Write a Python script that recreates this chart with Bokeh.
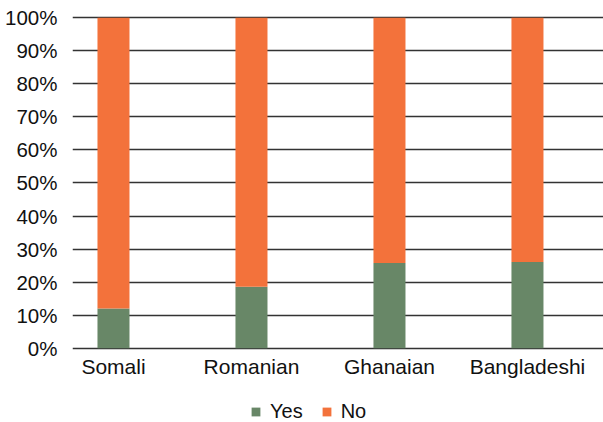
import numpy as np
from bokeh.plotting import figure
from bokeh.models import (ColumnDataSource, Range1d, FixedTicker, NumeralTickFormatter,
                          Legend, LegendItem)
from bokeh.core.properties import value
from bokeh.embed import file_html
from bokeh.resources import INLINE

categories = ["Somali", "Romanian", "Ghanaian", "Bangladeshi"]
yes_share = [0.120, 0.186, 0.258, 0.261]
no_share = [1 - v for v in yes_share]
y_ticks = [i / 10 for i in range(11)]

GREEN = "#688767"
ORANGE = "#F3723B"
FONT = "Liberation Sans"
TEXT = "#111111"

xs = list(range(len(categories)))
src = ColumnDataSource(dict(x=xs, Yes=yes_share, No=no_share, cat=categories))

p = figure(width=603, height=422, output_backend="svg", toolbar_location=None,
           x_range=Range1d(-0.297, 3.551), y_range=Range1d(-0.2249, 1.016),
           min_border_left=72, min_border_right=0, min_border_top=12, min_border_bottom=0)
p.outline_line_color = None
p.background_fill_color = "white"
p.border_fill_color = "white"

r = p.vbar_stack(["Yes", "No"], x="x", width=0.232, source=src,
                 color=[GREEN, ORANGE], line_color=None)

# category labels under the baseline
p.text(x="x", y=0, text="cat", source=src, y_offset=18, text_align="center",
       text_baseline="alphabetic", text_font=value(FONT), text_font_size="21px",
       text_color=TEXT)

p.xaxis.visible = False
p.yaxis.ticker = FixedTicker(ticks=y_ticks)
p.yaxis.formatter = NumeralTickFormatter(format="0%")
ax = p.yaxis[0]
ax.axis_line_color = None
ax.major_tick_line_color = None
ax.minor_tick_line_color = None
ax.major_label_text_font = FONT
ax.major_label_text_font_size = "20.5px"
ax.major_label_text_color = TEXT
ax.major_label_standoff = 9

p.xgrid.grid_line_color = None
p.ygrid.grid_line_color = "#333333"
p.ygrid.grid_line_width = 1.6

legend = Legend(items=[LegendItem(label="Yes", renderers=[r[0]]),
                       LegendItem(label="No", renderers=[r[1]])],
                orientation="horizontal", location=(178, -1))
legend.border_line_color = None
legend.background_fill_alpha = 0
legend.padding = 0
legend.margin = 0
legend.spacing = 18
legend.glyph_width = 11
legend.glyph_height = 11
legend.label_standoff = 9
legend.label_text_font = FONT
legend.label_text_font_size = "20px"
legend.label_text_color = TEXT
p.add_layout(legend, "center")

open("out.html", "w").write(file_html(p, INLINE))
